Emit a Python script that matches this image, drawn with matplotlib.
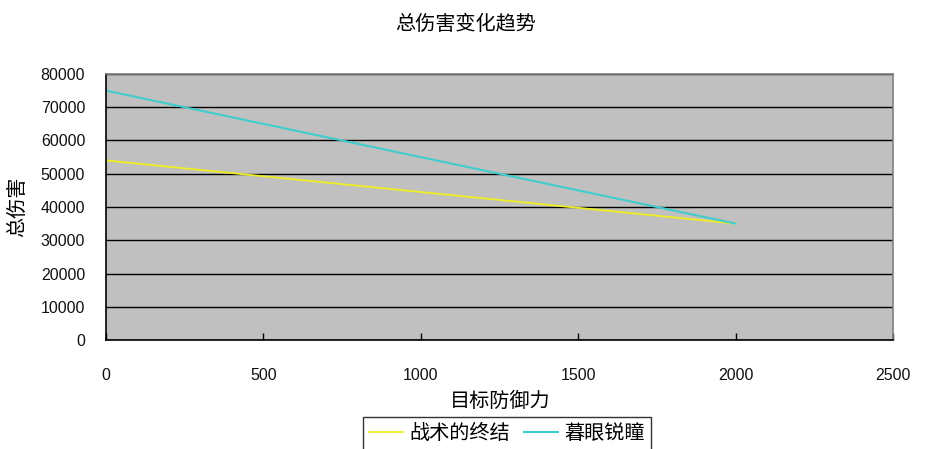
import matplotlib
matplotlib.use("Agg")
import matplotlib.pyplot as plt
from matplotlib.ticker import MultipleLocator

plt.rcParams['font.family'] = ['Noto Sans CJK SC', 'DejaVu Sans']

defense = [0, 500, 1000, 1500, 2000]
series1_name = "战术的终结"
series1 = [54000, 49250, 44500, 39750, 35000]
series2_name = "暮眼锐瞳"
series2 = [75000, 65000, 55000, 45000, 35000]

title = "总伤害变化趋势"
xlabel = "目标防御力"
ylabel = "总伤害"

fig = plt.figure(figsize=(9.28, 4.49), dpi=100)
ax = fig.add_axes([106/928, 1-340/449, (893-106)/928, (340-74)/449])
ax.set_facecolor('#C0C0C0')

ax.plot(defense, series1, color='#EEEE22', lw=1.3, label=series1_name)
ax.plot(defense, series2, color='#40CCCC', lw=1.5, label=series2_name)

ax.set_xlim(0, 2500)
ax.set_ylim(0, 80000)
ax.xaxis.set_major_locator(MultipleLocator(500))
ax.yaxis.set_major_locator(MultipleLocator(10000))
ax.yaxis.grid(True, color='black', lw=1)
ax.set_axisbelow(True)

tickfont = dict(family='Liberation Sans', size=11.5)
ax.set_xticks(ax.get_xticks())
ax.set_xticklabels([str(int(v)) for v in ax.get_xticks()], **tickfont)
ax.set_yticks(ax.get_yticks())
ax.set_yticklabels([str(int(v)) for v in ax.get_yticks()], **tickfont)
ax.set_xlim(0, 2500)
ax.set_ylim(0, 80000)
ax.tick_params(axis='x', direction='in', length=5, width=1, pad=20, top=False,
               labelcolor='#111111')
ax.tick_params(axis='y', length=0, pad=15, labelcolor='#111111')
ax.xaxis.get_major_ticks()[-1].tick1line.set_visible(False)

for s in ['left', 'bottom']:
    ax.spines[s].set_color('black')
    ax.spines[s].set_linewidth(1.2)
for s in ['top', 'right']:
    ax.spines[s].set_color('#808080')
    ax.spines[s].set_linewidth(1.2)

fig.text(466/928, 1-24/449, title, ha='center', va='center', fontsize=14.5)
fig.text(500/928, 1-401/449, xlabel, ha='center', va='center', fontsize=14.5)
fig.text(18/928, 1-207/449, ylabel, ha='center', va='center', fontsize=14.5, rotation=90)

leg = fig.legend(loc='upper center', bbox_to_anchor=(507/928, 1-417/449), ncol=2,
                 fontsize=14.5, frameon=True, fancybox=False, edgecolor='black',
                 handlelength=1.7, handletextpad=0.3, columnspacing=0.7,
                 borderpad=0.3, borderaxespad=0)
leg.get_frame().set_linewidth(1)

fig.savefig('out.png', dpi=100, facecolor='white')
